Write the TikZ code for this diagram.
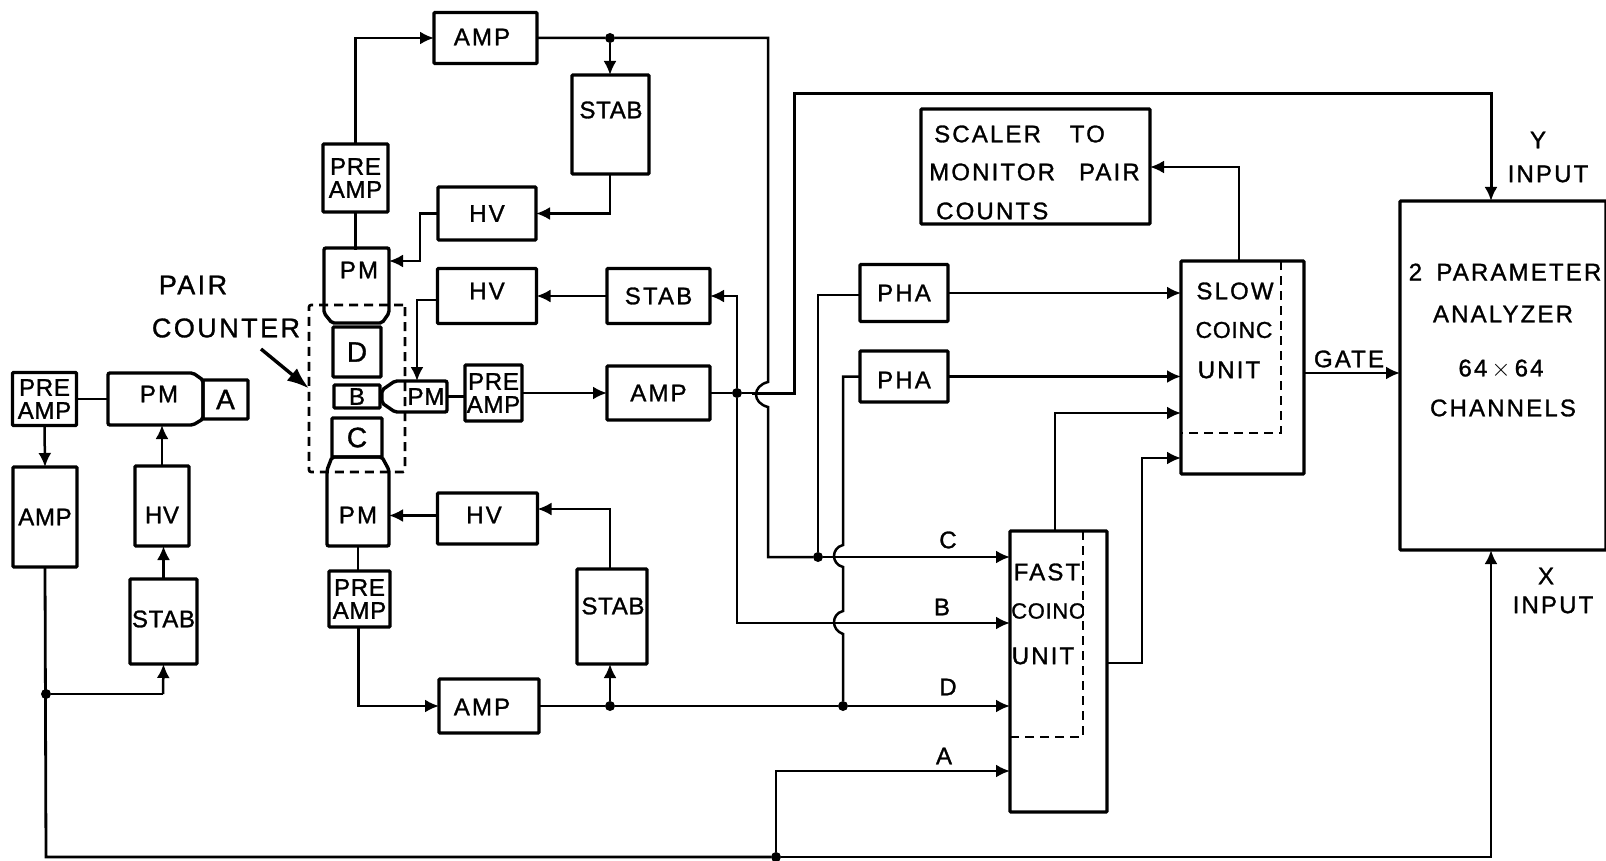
\documentclass[tikz,border=0pt]{standalone}
\usepackage{fontspec}
\setmainfont[LetterSpace=3,FakeBold=1.2]{Liberation Sans}
\newfontfamily\widefont[LetterSpace=9,FakeBold=1.2]{Liberation Sans}
\usetikzlibrary{arrows.meta}
\begin{document}
\begin{tikzpicture}[x=1pt,y=-1pt,
          font=\fontsize{24}{23}\selectfont,
          blockbox/.style={draw,line width=3.4pt,inner sep=0pt,outer sep=0pt,rounded corners=1pt,align=center},
          plainbox/.style={inner sep=0pt,outer sep=0pt,align=center},
          tubeline/.style={line width=3.4pt,rounded corners=2pt},
          dashbox/.style={line width=2.6pt,dash pattern=on 9pt off 6pt},
          lab/.style={inner sep=0pt,align=center},
          wide/.style={font=\fontsize{24}{23}\widefont},
          wire/.style={line width=2.5pt},
          sig/.style={wire,-{Latex[length=14pt,width=13pt]}},
          jdot/.style={circle,fill,inner sep=0pt,minimum size=10pt}]
  \useasboundingbox (0,0) rectangle (1606,861);
  \node[blockbox,minimum width=103,minimum height=51] (AmpD) at (485.5,38) {};
  \node[lab,wide] (AmpDtext) at (482,37) {AMP};
  \node[blockbox,minimum width=77,minimum height=99] (StabD) at (610.5,124.5) {};
  \node[lab] (StabDtext) at (611,110) {STAB};
  \node[blockbox,minimum width=65,minimum height=68] (PreD) at (355.5,178) {PRE\\AMP};
  \node[blockbox,wide,minimum width=98,minimum height=53] (HvD) at (487,213.5) {HV};
  \node[plainbox,wide,minimum width=60,minimum height=40] (PmD) at (359,270) {PM};
  \draw[tubeline] (324,248) -- (389,248) -- (389,313) -- (382,323) -- (332,323) -- (324,313) -- cycle;
  \node[blockbox,minimum width=48,minimum height=50] (DetD) at (357,352) {\fontsize{28}{28}\selectfont D};
  \node[blockbox,wide,minimum width=99,minimum height=55] (HvB) at (487,296) {};
  \node[lab,wide] (HvBtext) at (487,291) {HV};
  \node[blockbox,wide,minimum width=103,minimum height=55] (StabB) at (658.5,296) {STAB};
  \node[blockbox,wide,minimum width=103,minimum height=54] (AmpB) at (658.5,393) {AMP};
  \node[blockbox,minimum width=57,minimum height=56] (PreB) at (493.5,393) {PRE\\AMP};
  \node[plainbox,minimum width=40,minimum height=31] (PmB) at (426,396.5) {PM};
  \draw[tubeline] (447,381) -- (447,412) -- (395,412) -- (382,403) -- (382,390) -- (395,381) -- cycle;
  \node[blockbox,minimum width=46,minimum height=23] (DetB) at (357,396.5) {B};
  \node[blockbox,minimum width=50,minimum height=39] (DetC) at (357,437.5) {\fontsize{28}{28}\selectfont C};
  \node[plainbox,wide,minimum width=62,minimum height=40] (PmC) at (358,515) {PM};
  \draw[tubeline] (327,546) -- (389,546) -- (389,470) -- (382,457) -- (332,457) -- (327,470) -- cycle;
  \node[blockbox,minimum width=100,minimum height=51] (HvC) at (487.5,518.5) {};
  \node[lab,wide] (HvCtext) at (484,515) {HV};
  \node[blockbox,minimum width=61,minimum height=56] (PreC) at (359.5,599) {PRE\\AMP};
  \node[blockbox,minimum width=70,minimum height=95] (StabC) at (612,616.5) {};
  \node[lab] (StabCtext) at (613,606) {STAB};
  \node[blockbox,minimum width=100,minimum height=54] (AmpC) at (489,706) {};
  \node[lab,wide] (AmpCtext) at (482,707) {AMP};
  \node[blockbox,minimum width=64,minimum height=53] (PreA) at (44.5,399) {PRE\\AMP};
  \node[plainbox,wide,minimum width=95,minimum height=52] (PmA) at (155.5,399) {};
  \node[lab,wide] (PmAtext) at (159,394) {PM};
  \draw[tubeline] (108,373) -- (193,373) -- (203,380) -- (203,419) -- (193,425) -- (108,425) -- cycle;
  \node[blockbox,minimum width=45,minimum height=39] (DetA) at (225.5,399.5) {\fontsize{28}{28}\selectfont A};
  \node[blockbox,minimum width=64,minimum height=100] (AmpA) at (45,517) {AMP};
  \node[blockbox,minimum width=54,minimum height=80] (HvA) at (162,506) {};
  \node[lab] (HvAtext) at (162,515) {HV};
  \node[blockbox,minimum width=67,minimum height=85] (StabA) at (163.5,621.5) {};
  \node[lab] (StabAtext) at (163.5,619) {STAB};
  \node[blockbox,wide,minimum width=88,minimum height=57] (PhaC) at (904,293) {PHA};
  \node[blockbox,minimum width=88,minimum height=51] (PhaD) at (904,376.5) {};
  \node[lab,wide] (PhaDtext) at (904,380) {PHA};
  \node[blockbox,minimum width=123,minimum height=213] (Slow) at (1242.5,367.5) {};
  \node[blockbox,minimum width=97,minimum height=281] (Fast) at (1058.5,671.5) {};
  \node[blockbox,minimum width=229,minimum height=115] (Scaler) at (1035.5,166.5) {};
  \node[blockbox,minimum width=206,minimum height=349] (Analyzer) at (1503,375.5) {};
  \node[plainbox,dashbox,draw,rounded corners=2pt,minimum width=96,minimum height=167] (PairBox) at (357,388.5) {};
  \draw[dashbox] (1281,261) -- (1281,433) -- (1181,433);
  \draw[dashbox] (1083,531) -- (1083,737) -- (1010,737);
  \node[lab,wide,font=\fontsize{27}{27}\widefont] (PairA) at (193,285) {PAIR};
  \node[lab,wide,font=\fontsize{27}{27}\widefont] (PairB) at (226,328) {COUNTER};
  \node[lab,wide,anchor=west] (ScalerA) at (934,134) {SCALER\hspace{1.2em}TO};
  \node[lab,wide,anchor=west] (ScalerB) at (929,172) {MONITOR\hspace{1em}PAIR};
  \node[lab,wide,anchor=west] (ScalerC) at (936,211) {COUNTS};
  \node[lab,wide] (SlowA) at (1235,291) {SLOW};
  \node[lab,font=\fontsize{23}{23}\selectfont] (SlowB) at (1234,330) {COINC};
  \node[lab,wide] (SlowC) at (1229,370) {UNIT};
  \node[lab,wide] (FastA) at (1047,572) {FAST};
  \node[lab,font=\fontsize{22}{22}\selectfont] (FastB) at (1048,611) {COINC};
  \node[lab,wide] (FastC) at (1043,656) {UNIT};
  \node[lab,wide] (AnA) at (1505,272) {2\hspace{.6em}PARAMETER};
  \node[lab,wide] (AnB) at (1503,314) {ANALYZER};
  \node[lab,wide] (AnC) at (1501,369) {64\,$\times$\,64};
  \node[lab,wide] (AnD) at (1503,408) {CHANNELS};
  \node[lab,wide] (InY) at (1538,140) {Y};
  \node[lab,wide] (InYb) at (1548,174) {INPUT};
  \node[lab,wide] (InX) at (1546,576) {X};
  \node[lab,wide] (InXb) at (1553,605) {INPUT};
  \node[lab,wide] (GateL) at (1349,359) {GATE};
  \node[lab] (LabC) at (948,540) {C};
  \node[lab] (LabB) at (942,607) {B};
  \node[lab] (LabD) at (948,687) {D};
  \node[lab] (LabA) at (944,756) {A};
  \node[jdot] (DotD) at (610,38) {};
  \node[jdot] (DotB) at (737,393) {};
  \node[jdot] (DotCc) at (818,557) {};
  \node[jdot] (DotDd) at (843,706) {};
  \node[jdot] (DotCs) at (610,706) {};
  \node[jdot] (DotAa) at (46,694) {};
  \node[jdot] (DotAb) at (776,857) {};
  \coordinate (TurnY) at (794,94);
  \coordinate (TurnBot) at (46,857);
  \coordinate (PairTail) at (261,349);
  \draw[sig] (PreD.north) |- (AmpD.west);
  \draw[wire] (PreD.south) -- (PreD.south |- PmD.north);
  \draw[wire] (AmpD.east) -- (DotD) -- (768,38) -- (768,382) .. controls (752,386) and (752,403) .. (768,407) -- (768,557) -- (DotCc);
  \draw[sig] (DotD) -- (StabD.north -| DotD);
  \draw[sig] (StabD.south -| DotD) |- (HvD.east);
  \draw[sig] (HvD.west) -- (420,213.5) -- (420,261) -- (PmD.east |- 420,261);
  \draw[sig] (StabB.west) -- (HvB.east);
  \draw[sig] (HvB.west |- 437,300) -- (417,300) -- (PmB.north -| 417,381);
  \draw[wire] (PreB.west |- PmB.east) -- (PmB.east);
  \draw[sig] (PreB.east) -- (AmpB.west);
  \draw[wire] (AmpB.east) -- (DotB) -- (768,393);
  \draw[sig,line width=3pt] (752,393) -- (794,393) -- (TurnY) -- (1491,94) -- (1491,201);
  \draw[sig] (DotB) -- (737,296) -- (StabB.east);
  \draw[sig] (DotB) -- (737,623) -- (1010,623);
  \draw[sig] (DotCc) -- (1010,557);
  \draw[wire] (DotCc) -- (818,295) -- (PhaC.west |- 860,295);
  \draw[wire] (PhaD.west) -- (843,376.5) -- (843,545) .. controls (831,548) and (831,564) .. (843,567) -- (843,611) .. controls (831,614) and (831,630) .. (843,634) -- (DotDd);
  \draw[sig] (AmpC.east) -- (DotCs) -- (DotDd) -- (1010,706);
  \draw[sig] (DotCs) -- (StabC.south -| DotCs);
  \draw[sig] (StabC.north -| DotCs) -- (610,509) -- (HvC.east |- 537,509);
  \draw[sig] ([yshift=3]HvC.west) -- (PmC.east |- 389,515.5);
  \draw[wire] (PmC.south |- 358,546) -- (PreC.north -| 358,571);
  \draw[sig] (358.5,627) |- (AmpC.west);
  \draw[wire] (PreA.east) -- (PreA.east -| PmA.west);
  \draw[sig] (PreA.south) -- (AmpA.north);
  \draw[sig] (HvA.north) -- (HvA.north |- PmA.south);
  \draw[sig] (StabA.north) -- (HvA.south -| StabA.north);
  \draw[wire,line width=2.8pt] (AmpA.south) -- (TurnBot) -- (DotAb);
  \draw[sig,line width=2.8pt] (DotAb) -- (1491,857) -- (Analyzer.south -| 1491,550);
  \draw[wire] (DotAa) -- (163,694);
  \draw[sig] (163,694) -- (StabA.south);
  \draw[sig] (DotAb) -- (776,771) -- (1010,771);
  \draw[sig] (PhaC.east) -- (Slow.west |- 1181,293);
  \draw[sig] (PhaD.east) -- (Slow.west |- 1181,376.5);
  \draw[sig] (1055,531) -- (1055,413) -- (1181,413);
  \draw[sig] (Fast.east |- 1107,663) -- (1142,663) -- (1142,458) -- (1181,458);
  \draw[sig] (1239,261) -- (1239,167) -- (Scaler.east |- 1150,167);
  \draw[sig] (Slow.east |- 1304,373) -- (Analyzer.west |- 1400,373);
  \draw[line width=3.4pt,-{Latex[length=22pt,width=16pt]}] (PairTail) -- (PairBox.west);
\end{tikzpicture}
\end{document}
